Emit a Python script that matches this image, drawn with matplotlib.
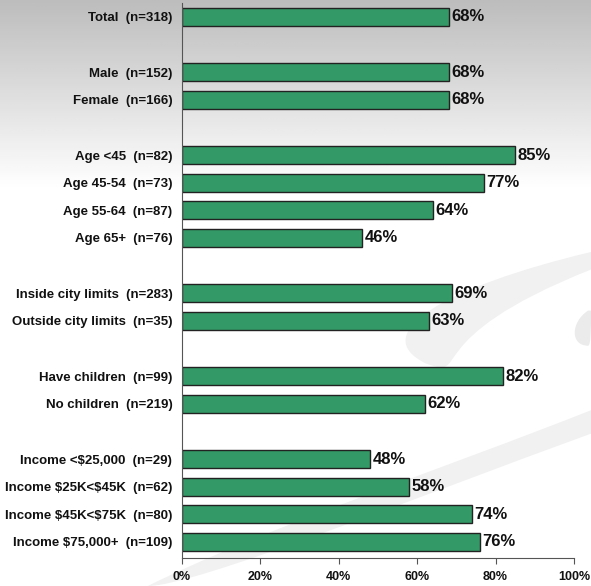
import numpy as np
import matplotlib.pyplot as plt
from matplotlib.path import Path
from matplotlib.patches import PathPatch

labels = ["Total  (n=318)", "",
          "Male  (n=152)", "Female  (n=166)", "",
          "Age <45  (n=82)", "Age 45-54  (n=73)", "Age 55-64  (n=87)", "Age 65+  (n=76)", "",
          "Inside city limits  (n=283)", "Outside city limits  (n=35)", "",
          "Have children  (n=99)", "No children  (n=219)", "",
          "Income <$25,000  (n=29)", "Income $25K<$45K  (n=62)",
          "Income $45K<$75K  (n=80)", "Income $75,000+  (n=109)"]
values = [68, None,
          68, 68, None,
          85, 77, 64, 46, None,
          69, 63, None,
          82, 62, None,
          48, 58, 74, 76]
ticks = [0, 20, 40, 60, 80, 100]
tick_labels = ["0%", "20%", "40%", "60%", "80%", "100%"]

plt.rcParams['font.family'] = ['Liberation Sans', 'DejaVu Sans']
plt.rcParams['text.parse_math'] = False

fig = plt.figure(figsize=(5.91, 5.86), dpi=100)

# background gradient
bg = fig.add_axes([0, 0, 1, 1], zorder=-2)
grad = np.linspace(0, 1, 256)
shade = np.clip(0.74 + 0.26 * np.clip(grad / 0.32, 0, 1), 0, 1)
img = np.repeat(shade[:, None], 2, axis=1)
bg.imshow(img, cmap='gray', vmin=0, vmax=1, aspect='auto', extent=[0, 1, 1, 0])
bg.set_xlim(0, 1)
bg.set_ylim(1, 0)
bg.axis('off')

# swoosh decoration (figure fraction, y measured from top)
def band(pts, color):
    codes = [Path.MOVETO] + [Path.CURVE4] * (len(pts) - 2) + [Path.CLOSEPOLY]
    bg.add_patch(PathPatch(Path(pts, codes), facecolor=color, edgecolor='none'))

band([(1.0, 0.43), (0.75, 0.49), (0.62, 0.57), (0.72, 0.62),
      (0.80, 0.65), (0.70, 0.58), (1.0, 0.46), (1.0, 0.43)], '#f1f1f1')
band([(1.0, 0.70), (0.75, 0.80), (0.45, 0.90), (0.25, 1.0),
      (0.33, 1.0), (0.70, 0.85), (1.0, 0.74), (1.0, 0.70)], '#f1f1f1')
band([(0.995, 0.53), (0.965, 0.55), (0.965, 0.59), (0.995, 0.59),
      (1.0, 0.59), (1.0, 0.56), (1.0, 0.53), (0.995, 0.53)], '#ebebeb')

ax = fig.add_axes([182 / 591, 28 / 586, 392 / 591, 555 / 586])
ax.patch.set_alpha(0)

pos = np.arange(len(labels))
for i, v in enumerate(values):
    if v is None:
        continue
    ax.barh(pos[i], v, height=0.65, color='#339966', edgecolor='#222222', linewidth=1)
    ax.text(v + 0.6, pos[i], f"{v}%", va='center', ha='left',
            fontsize=12, fontweight='bold', color='#111111')

ax.set_yticks(pos)
ax.set_yticklabels(labels, fontsize=9.5, fontweight='bold', color='#111111')
ax.tick_params(axis='y', length=0, pad=7)
ax.set_xlim(0, 100)
ax.set_ylim(19.58, -0.5)
ax.set_xticks(ticks)
ax.set_xticklabels(tick_labels, fontsize=9, fontweight='bold', color='#111111')
ax.tick_params(axis='x', length=4, direction='out', color='#555555', pad=5)
for s in ['top', 'right']:
    ax.spines[s].set_visible(False)
ax.spines['left'].set_color('#555555')
ax.spines['bottom'].set_color('#555555')

fig.savefig("out.png", dpi=100)
